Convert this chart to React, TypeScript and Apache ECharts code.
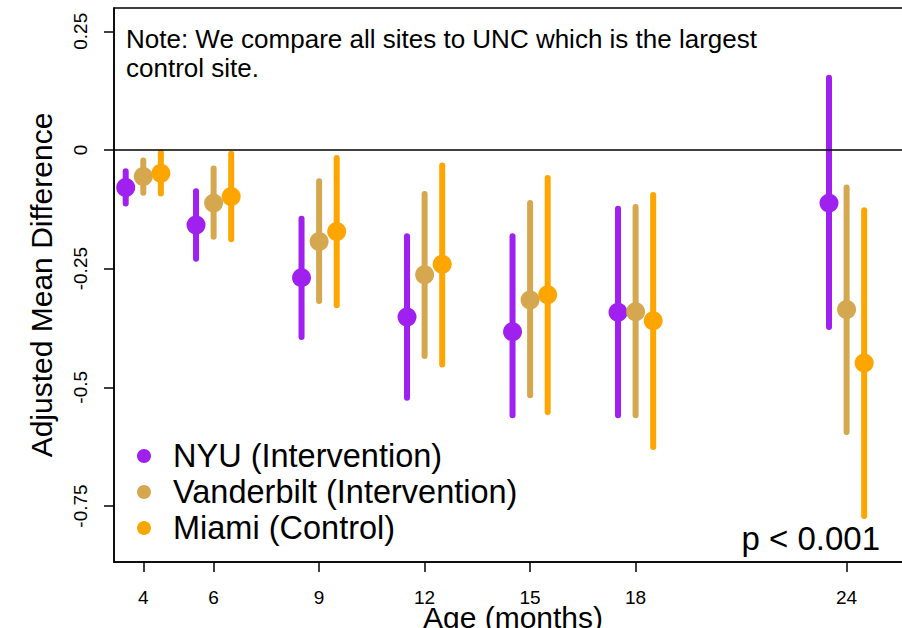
import React, { useEffect, useRef } from "react";
import * as echarts from "echarts";

// Age at assessment (months)
const ages = [4, 6, 9, 12, 15, 18, 24];

// Adjusted mean difference vs. UNC, with 95% interval bounds
const nyuMean = [-0.079, -0.158, -0.269, -0.352, -0.383, -0.342, -0.112];
const nyuLow = [-0.113, -0.229, -0.394, -0.522, -0.559, -0.559, -0.373];
const nyuHigh = [-0.045, -0.087, -0.145, -0.182, -0.182, -0.124, 0.152];

const vandMean = [-0.056, -0.112, -0.193, -0.263, -0.316, -0.341, -0.336];
const vandLow = [-0.09, -0.183, -0.318, -0.434, -0.517, -0.559, -0.594];
const vandHigh = [-0.022, -0.039, -0.066, -0.093, -0.112, -0.12, -0.079];

const miamiMean = [-0.049, -0.098, -0.172, -0.241, -0.305, -0.36, -0.449];
const miamiLow = [-0.092, -0.188, -0.327, -0.452, -0.552, -0.626, -0.771];
const miamiHigh = [-0.005, -0.008, -0.017, -0.033, -0.059, -0.095, -0.127];

const yTicks = [0.25, 0, -0.25, -0.5, -0.75];
const yTickLabels = ["0.25", "0", "-0.25", "-0.5", "-0.75"];

const siteNames = ["NYU (Intervention)", "Vanderbilt (Intervention)", "Miami (Control)"];
const siteColors = ["#A020F0", "#D5A74F", "#FFA500"];
const siteOffsets = [-0.5, 0, 0.5];

const FONT = "'Liberation Sans', Arial, Helvetica, sans-serif";

export default function App() {
  const ref = useRef<HTMLDivElement>(null);

  useEffect(() => {
    if (!ref.current) return;
    const chart = echarts.init(ref.current, undefined, { renderer: "svg" });

    const groups = [
      { mean: nyuMean, low: nyuLow, high: nyuHigh },
      { mean: vandMean, low: vandLow, high: vandHigh },
      { mean: miamiMean, low: miamiLow, high: miamiHigh },
    ];

    const series: any[] = [];
    groups.forEach((g, i) => {
      const color = siteColors[i];
      series.push({
        name: siteNames[i] + " interval",
        type: "custom",
        data: ages.map((a, k) => [a + siteOffsets[i], g.low[k], g.high[k]]),
        renderItem: (_params: any, api: any) => {
          const x = api.value(0);
          const p1 = api.coord([x, api.value(1)]);
          const p2 = api.coord([x, api.value(2)]);
          return {
            type: "line",
            shape: { x1: p1[0], y1: p1[1], x2: p2[0], y2: p2[1] },
            style: { stroke: color, lineWidth: 6, lineCap: "round" },
          };
        },
        z: 3,
      });
      series.push({
        name: siteNames[i],
        type: "scatter",
        data: ages.map((a, k) => [a + siteOffsets[i], g.mean[k]]),
        symbol: "circle",
        symbolSize: 19,
        itemStyle: { color, opacity: 1 },
        z: 4,
      });
    });

    // reference line at zero difference
    series.push({
      name: "zero",
      type: "line",
      data: [],
      markLine: {
        silent: true,
        symbol: "none",
        label: { show: false },
        lineStyle: { color: "#000", width: 1.5, type: "solid" },
        data: [{ yAxis: 0 }],
      },
    });

    chart.setOption({
      animation: false,
      backgroundColor: "#fff",
      textStyle: { fontFamily: FONT },
      grid: {
        left: 114,
        top: 8,
        right: 8,
        bottom: 66,
        show: true,
        borderColor: "#000",
        borderWidth: 1.5,
        containLabel: false,
        outerBoundsMode: "none",
      },
      xAxis: {
        type: "value",
        min: 3.167,
        max: 25.86,
        name: "Age (months)",
        nameLocation: "middle",
        nameGap: 40,
        nameMoveOverlap: false,
        nameTextStyle: { color: "#000", fontSize: 30, fontFamily: FONT },
        axisLine: { show: true, onZero: false, lineStyle: { color: "#000", width: 1.5 } },
        axisTick: {
          show: true,
          length: 10,
          customValues: ages,
          lineStyle: { color: "#000", width: 1.5 },
        },
        axisLabel: {
          customValues: ages,
          margin: 26,
          color: "#000",
          fontSize: 19,
          fontFamily: FONT,
        },
        splitLine: { show: false },
      },
      yAxis: {
        type: "value",
        min: -0.868,
        max: 0.299,
        name: "Adjusted Mean Difference",
        nameLocation: "middle",
        nameGap: 58,
        nameMoveOverlap: false,
        nameTextStyle: { color: "#000", fontSize: 30, fontFamily: FONT },
        axisLine: { show: true, onZero: false, lineStyle: { color: "#000", width: 1.5 } },
        axisTick: {
          show: true,
          length: 10,
          customValues: yTicks,
          lineStyle: { color: "#000", width: 1.5 },
        },
        axisLabel: {
          customValues: yTicks,
          rotate: 90,
          margin: 24,
          color: "#000",
          fontSize: 19,
          fontFamily: FONT,
          formatter: (v: number) => {
            const idx = yTicks.findIndex((t) => Math.abs(t - v) < 1e-9);
            return idx >= 0 ? yTickLabels[idx] : "";
          },
        },
        splitLine: { show: false },
      },
      legend: {
        data: siteNames,
        orient: "vertical",
        left: 132,
        top: 433,
        icon: "circle",
        itemWidth: 14,
        itemHeight: 14,
        itemGap: 0,
        textStyle: {
          color: "#000",
          fontSize: 32.5,
          fontFamily: FONT,
          lineHeight: 36,
          padding: [0, 0, 0, 17],
        },
      },
      graphic: [
        {
          type: "text",
          left: 126,
          top: 24,
          style: {
            text: "Note: We compare all sites to UNC which is the largest\ncontrol site.",
            fontSize: 26,
            lineHeight: 29,
            fontFamily: FONT,
            fill: "#000",
          },
        },
        {
          type: "text",
          right: 40,
          top: 522,
          style: {
            text: "p < 0.001",
            fontSize: 33,
            fontFamily: FONT,
            fill: "#000",
          },
        },
      ],
      series,
    });

    return () => chart.dispose();
  }, []);

  return (
    <div
      ref={ref}
      style={{ position: "fixed", left: 0, top: 0, width: 920, height: 628 }}
    />
  );
}
